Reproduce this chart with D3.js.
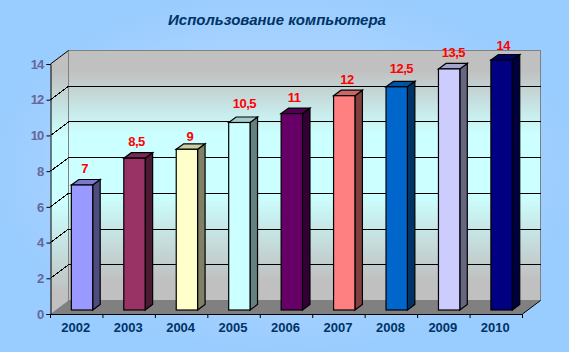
<!DOCTYPE html>
<html>
<head>
<meta charset="utf-8">
<script src="https://cdnjs.cloudflare.com/ajax/libs/d3/7.8.5/d3.min.js"></script>
<style>
  html, body { margin: 0; padding: 0; background: #99ccff; }
  svg { display: block; }
  text { font-family: "Liberation Sans", Arial, sans-serif; }
</style>
</head>
<body>
<div id="chart"></div>
<script>
const years = ["2002", "2003", "2004", "2005", "2006", "2007", "2008", "2009", "2010"];
const usage = [7, 8.5, 9, 10.5, 11, 12, 12.5, 13.5, 14];
const usageLabels = ["7", "8,5", "9", "10,5", "11", "12", "12,5", "13,5", "14"];
const barColors = ["#9999ff", "#993366", "#ffffcc", "#ccffff", "#660066", "#ff8080", "#0066cc", "#ccccff", "#000080"];
const yTicks = [0, 2, 4, 6, 8, 10, 12, 14];

const width = 569;
const height = 352;
// front edge of the floor, in px
const front = {left: 50.5, right: 522.5, top: 64, bottom: 314};
// how far the back wall sits behind the front edge
const wallDx = 18, wallDy = -13.5;
// bar box
const barDepthX = 7.5, barDepthY = -5.5;
const barShiftX = 5.3, barShiftY = -4;
// the labels were dragged by hand in the original, so each has its own nudge
const labelLift = [15.7, 16, 12, 19, 15.6, 15.7, 17.5, 15.6, 14];
const labelNudge = [2.7, 2.1, 3, 5, 2.3, 2.7, 4.7, 4.3, 1.7];

const svg = d3.select("#chart").append("svg")
    .attr("width", width)
    .attr("height", height);

const defs = svg.append("defs");

const bg = defs.append("radialGradient")
    .attr("id", "bg")
    .attr("gradientUnits", "userSpaceOnUse")
    .attr("cx", 285).attr("cy", 170).attr("r", 300)
    .attr("gradientTransform", "translate(285 170) scale(1 0.62) translate(-285 -170)");
bg.append("stop").attr("offset", "0%").attr("stop-color", "#c2deff");
bg.append("stop").attr("offset", "100%").attr("stop-color", "#99ccff");

const wall = defs.append("linearGradient")
    .attr("id", "wall")
    .attr("x1", 0).attr("y1", 0).attr("x2", 0).attr("y2", 1);
wall.append("stop").attr("offset", "0%").attr("stop-color", "#c0c0c0");
wall.append("stop").attr("offset", "8%").attr("stop-color", "#c0c0c0");
wall.append("stop").attr("offset", "33%").attr("stop-color", "#ccffff");
wall.append("stop").attr("offset", "58%").attr("stop-color", "#ccffff");
wall.append("stop").attr("offset", "92%").attr("stop-color", "#c0c0c0");
wall.append("stop").attr("offset", "100%").attr("stop-color", "#c0c0c0");

svg.append("rect")
    .attr("width", width)
    .attr("height", height)
    .attr("fill", "url(#bg)");

const x = d3.scaleBand()
    .domain(years)
    .range([front.left, front.right]);

const y = d3.scaleLinear()
    .domain([0, 14])
    .range([front.bottom, front.top]);

const bar = d3.scaleBand()
    .domain(years)
    .range([front.left + barShiftX, front.right + barShiftX])
    .paddingInner(0.593)
    .paddingOuter(0.2965);

const pts = a => a.map(p => p.join(",")).join(" ");
const shade = (c, k) => {
    const r = d3.rgb(c);
    return d3.rgb(r.r * k, r.g * k, r.b * k).formatHex();
};

// walls and floor
svg.append("polygon")
    .attr("points", pts([[front.left, y(0)], [front.left + wallDx, y(0) + wallDy], [front.left + wallDx, y(14) + wallDy], [front.left, y(14)]]))
    .attr("fill", "url(#wall)");

svg.append("rect")
    .attr("x", front.left + wallDx)
    .attr("y", y(14) + wallDy)
    .attr("width", front.right - front.left)
    .attr("height", y(0) - y(14))
    .attr("fill", "url(#wall)")
    .attr("stroke", "#808080")
    .attr("stroke-width", 1);

svg.append("polygon")
    .attr("points", pts([[front.left, y(0)], [front.left + wallDx, y(0) + wallDy], [front.right + wallDx, y(0) + wallDy], [front.right, y(0)]]))
    .attr("fill", "#808080");

// gridlines, side wall then back wall
svg.append("g").selectAll("polyline")
    .data(yTicks.filter(d => d > 0 && d < 14))
    .join("polyline")
    .attr("points", d => pts([[front.left, y(d)], [front.left + wallDx, y(d) + wallDy], [front.right + wallDx, y(d) + wallDy]]))
    .attr("fill", "none")
    .attr("stroke", "#000")
    .attr("stroke-width", 1)
    .attr("shape-rendering", "crispEdges");

svg.append("line")
    .attr("x1", front.left).attr("y1", y(14))
    .attr("x2", front.left + wallDx).attr("y2", y(14) + wallDy)
    .attr("stroke", "#000");

svg.append("line")
    .attr("x1", front.right).attr("y1", y(0))
    .attr("x2", front.right + wallDx).attr("y2", y(0) + wallDy)
    .attr("stroke", "#000");

// axes
const yAxis = svg.append("g")
    .attr("transform", `translate(${front.left},0)`)
    .call(d3.axisLeft(y).tickValues(yTicks).tickSize(4).tickPadding(3));

const xAxis = svg.append("g")
    .attr("transform", `translate(-1,${front.bottom})`)
    .call(d3.axisBottom(x).tickSize(0).tickPadding(9));

svg.append("g").selectAll("line")
    .data(years.concat("end"))
    .join("line")
    .attr("x1", (d, i) => i < years.length ? x(d) : front.right)
    .attr("x2", (d, i) => i < years.length ? x(d) : front.right)
    .attr("y1", front.bottom)
    .attr("y2", front.bottom + 4)
    .attr("stroke", "#000");

yAxis.selectAll(".domain, .tick line").attr("stroke", "#000");
xAxis.select(".domain").attr("d", `M${front.left + 1},0.5H${front.right + 1}`).attr("stroke", "#000");

yAxis.selectAll("text")
    .style("font-size", "13px")
    .style("letter-spacing", "-0.8px")
    .style("font-weight", "bold")
    .style("fill", "#666699");

xAxis.selectAll("text")
    .style("font-size", "13px")
    .style("font-weight", "bold")
    .style("fill", "#003366");

// bars: side, top and front face
const base = y(0) + barShiftY;
const bars = svg.append("g").selectAll("g")
    .data(years)
    .join("g")
    .attr("stroke", "#000")
    .attr("stroke-width", 1.2);

const barTop = (d, i) => y(usage[i]) + barShiftY;

bars.append("polygon")
    .attr("points", (d, i) => {
        const r = bar(d) + bar.bandwidth(), t = barTop(d, i);
        return pts([[r, t], [r + barDepthX, t + barDepthY], [r + barDepthX, base + barDepthY], [r, base]]);
    })
    .attr("fill", (d, i) => shade(barColors[i], 0.5));

bars.append("polygon")
    .attr("points", (d, i) => {
        const l = bar(d), r = l + bar.bandwidth(), t = barTop(d, i);
        return pts([[l, t], [l + barDepthX, t + barDepthY], [r + barDepthX, t + barDepthY], [r, t]]);
    })
    .attr("fill", (d, i) => shade(barColors[i], 0.8));

bars.append("rect")
    .attr("x", d => bar(d))
    .attr("y", barTop)
    .attr("width", bar.bandwidth())
    .attr("height", (d, i) => base - barTop(d, i))
    .attr("fill", (d, i) => barColors[i]);

// value labels
svg.append("g").selectAll("text")
    .data(years)
    .join("text")
    .attr("x", (d, i) => bar(d) + bar.bandwidth() / 2 + labelNudge[i])
    .attr("y", (d, i) => y(usage[i]) - labelLift[i])
    .attr("text-anchor", "middle")
    .style("font-size", "13px")
    .style("letter-spacing", "-0.5px")
    .style("font-weight", "bold")
    .style("fill", "#ff0000")
    .text((d, i) => usageLabels[i]);

svg.append("text")
    .attr("x", 277)
    .attr("y", 25)
    .attr("text-anchor", "middle")
    .style("font-size", "15px")
    .style("font-weight", "bold")
    .style("font-style", "italic")
    .style("fill", "#003366")
    .text("Использование компьютера");
</script>
</body>
</html>
